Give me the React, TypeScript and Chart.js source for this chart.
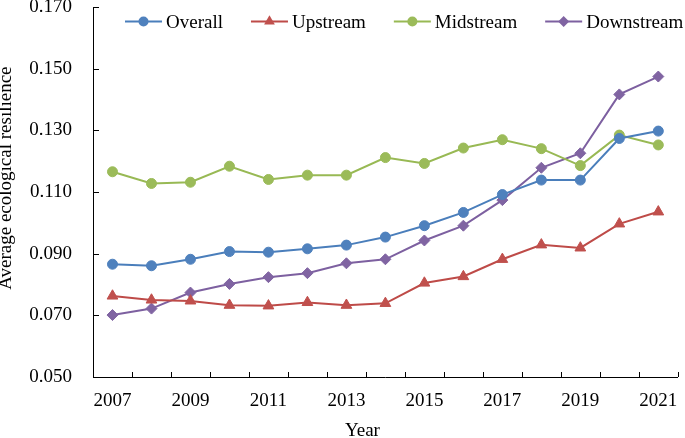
import React, { useEffect, useRef } from "react";
import { Chart, registerables } from "chart.js";

Chart.register(...registerables);

const years = ["2007", "2008", "2009", "2010", "2011", "2012", "2013", "2014", "2015", "2016", "2017", "2018", "2019", "2020", "2021"];
const overall = [0.0866, 0.0861, 0.0882, 0.0907, 0.0905, 0.0916, 0.0928, 0.0954, 0.0991, 0.1034, 0.1092, 0.1139, 0.1139, 0.1274, 0.1298];
const upstream = [0.0763, 0.0750, 0.0747, 0.0733, 0.0731, 0.0742, 0.0733, 0.0739, 0.0805, 0.0826, 0.0882, 0.0929, 0.0919, 0.0997, 0.1036];
const midstream = [0.1166, 0.1128, 0.1132, 0.1184, 0.1141, 0.1155, 0.1155, 0.1212, 0.1193, 0.1243, 0.1270, 0.1241, 0.1186, 0.1285, 0.1253];
const downstream = [0.0701, 0.0722, 0.0774, 0.0802, 0.0824, 0.0837, 0.0869, 0.0882, 0.0943, 0.0991, 0.1074, 0.1179, 0.1226, 0.1417, 0.1475];
const yTicks = [0.05, 0.07, 0.09, 0.11, 0.13, 0.15, 0.17];

const FONT = '"Liberation Serif", "Times New Roman", serif';
const FS = 19;

const series = [
  { label: "Overall", data: overall, color: "#4F81BD", line: "#4A7EBB", style: "circle", radius: 5 },
  { label: "Upstream", data: upstream, color: "#C0504D", line: "#BE4B48", style: "triangle", radius: 6.2 },
  { label: "Midstream", data: midstream, color: "#9BBB59", line: "#98B954", style: "circle", radius: 5 },
  { label: "Downstream", data: downstream, color: "#8064A2", line: "#7D60A0", style: "rectRot", radius: 5.5 },
];

function drawMarker(ctx: CanvasRenderingContext2D, style: string, x: number, y: number, r: number) {
  ctx.beginPath();
  if (style === "circle") {
    ctx.arc(x, y, r, 0, Math.PI * 2);
  } else if (style === "triangle") {
    for (let k = 0; k < 3; k++) {
      const a = (k * 2 * Math.PI) / 3;
      const px = x + Math.sin(a) * r;
      const py = y - Math.cos(a) * r;
      if (k === 0) ctx.moveTo(px, py);
      else ctx.lineTo(px, py);
    }
    ctx.closePath();
  } else {
    ctx.moveTo(x - r, y);
    ctx.lineTo(x, y - r);
    ctx.lineTo(x + r, y);
    ctx.lineTo(x, y + r);
    ctx.closePath();
  }
  ctx.fill();
}

const decorPlugin = {
  id: "decor",
  afterDraw(chart: any) {
    const ctx: CanvasRenderingContext2D = chart.ctx;
    const area = chart.chartArea;
    const xs = chart.scales.x;
    const ys = chart.scales.y;
    ctx.save();
    // inward tick marks
    ctx.strokeStyle = "#000";
    ctx.lineWidth = 1;
    ctx.beginPath();
    for (let i = 1; i <= years.length; i++) {
      const px = Math.round(xs.getPixelForValue(i - 0.5)) + 0.5;
      ctx.moveTo(px, area.bottom);
      ctx.lineTo(px, area.bottom - 5);
    }
    ys.ticks.forEach((t: any, idx: number) => {
      if (idx === 0) return;
      const py = Math.round(ys.getPixelForValue(t.value)) + 0.5;
      ctx.moveTo(area.left, py);
      ctx.lineTo(area.left + 6, py);
    });
    ctx.stroke();

    // axis titles
    ctx.fillStyle = "#000";
    ctx.font = `${FS}px ${FONT}`;
    ctx.textAlign = "center";
    ctx.textBaseline = "alphabetic";
    ctx.fillText("Year", (area.left + area.right) / 2 - 23, 436);
    ctx.save();
    ctx.translate(11, (area.top + area.bottom) / 2 - 14);
    ctx.rotate(-Math.PI / 2);
    ctx.fillText("Average ecological resilience", 0, 0);
    ctx.restore();

    // legend
    ctx.textAlign = "left";
    ctx.textBaseline = "alphabetic";
    let lx = 125;
    const ly = 21.5;
    series.forEach((s) => {
      ctx.strokeStyle = s.line;
      ctx.lineWidth = 2;
      ctx.beginPath();
      ctx.moveTo(lx, ly);
      ctx.lineTo(lx + 37, ly);
      ctx.stroke();
      ctx.fillStyle = s.color;
      drawMarker(ctx, s.style, lx + 18.5, ly, s.radius);
      ctx.fillStyle = "#000";
      ctx.fillText(s.label, lx + 41, 28);
      lx += 41 + ctx.measureText(s.label).width + 28;
    });
    ctx.restore();
  },
};

export default function App() {
  const ref = useRef<HTMLCanvasElement | null>(null);
  useEffect(() => {
    if (!ref.current) return;
    const chart = new Chart(ref.current, {
      type: "line",
      data: {
        labels: years,
        datasets: series.map((s) => ({
          label: s.label,
          data: s.data,
          borderColor: s.line,
          backgroundColor: s.color,
          borderWidth: 2,
          pointStyle: s.style as any,
          pointRadius: s.radius,
          pointBackgroundColor: s.color,
          pointBorderColor: s.color,
          pointBorderWidth: 1,
          tension: 0,
          fill: false,
        })),
      },
      options: {
        animation: false,
        responsive: true,
        maintainAspectRatio: false,
        layout: { padding: { left: 0, right: 5, top: 7, bottom: 0 } },
        plugins: {
          legend: { display: false },
          tooltip: { enabled: false },
        },
        scales: {
          x: {
            type: "category",
            offset: true,
            grid: { display: true, drawOnChartArea: false, drawTicks: false, offset: true },
            border: { display: true, color: "#000", width: 1 },
            ticks: {
              autoSkip: false,
              maxRotation: 0,
              padding: 13,
              color: "#000",
              font: { family: FONT, size: FS },
              callback: (_v: any, index: number) => (index % 2 === 0 ? years[index] : ""),
            },
            afterFit: (scale: any) => {
              scale.height = 61;
              scale.paddingLeft = 0;
              scale.paddingRight = 0;
            },
          },
          y: {
            min: 0.05,
            max: 0.17,
            afterBuildTicks: (scale: any) => {
              scale.ticks = yTicks.map((v) => ({ value: v }));
            },
            grid: { display: true, drawOnChartArea: false, drawTicks: false },
            border: { display: true, color: "#000", width: 1 },
            ticks: {
              padding: 21,
              color: "#000",
              font: { family: FONT, size: FS },
              callback: (v: any) => Number(v).toFixed(3),
            },
            afterFit: (scale: any) => {
              scale.width = 93;
              scale.paddingTop = 0;
              scale.paddingBottom = 0;
            },
          },
        },
      },
      plugins: [decorPlugin],
    });
    return () => chart.destroy();
  }, []);
  return (
    <div style={{ position: "fixed", left: 0, top: 0, width: 685, height: 438, background: "#fff" }}>
      <canvas ref={ref} />
    </div>
  );
}
